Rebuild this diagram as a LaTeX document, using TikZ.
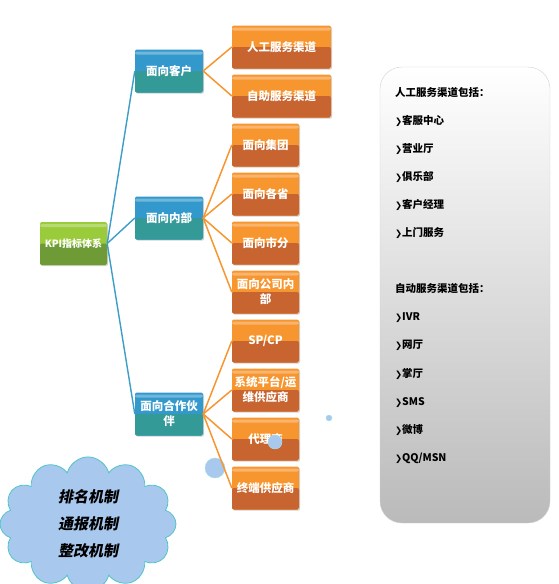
\documentclass[tikz,border=0pt]{standalone}
\usepackage{fontspec}
\setmainfont{Noto Sans CJK SC}
\newfontfamily\symfont{DejaVu Sans}
\newfontfamily\cloudfont[FakeSlant=0.2]{Noto Sans CJK SC}
\usetikzlibrary{shapes.symbols,shadows,positioning}
\newcommand{\vgap}{49pt}
\newcommand{\itm}{{\symfont\fontsize{8.5}{8.5}\selectfont ❯}}
\newcommand{\twol}[2]{#1\\#2}

\definecolor{orgtop}{HTML}{F7952F}
\definecolor{orgbot}{HTML}{C7642F}
\definecolor{blutop}{HTML}{3399CC}
\definecolor{blubot}{HTML}{339A98}
\definecolor{grntop}{HTML}{9ACB3A}
\definecolor{grnbot}{HTML}{6E9B36}
\definecolor{bluline}{HTML}{3C9DC9}
\definecolor{orgline}{HTML}{F7962F}
\definecolor{cloudfill}{HTML}{A8C8EE}
\definecolor{cloudedge}{HTML}{4FC4CA}

\tikzset{
  basebox/.style={rounded corners=2pt, minimum height=43pt, inner sep=1pt,
    align=center, text=white, font=\bfseries\fontsize{11.5}{15}\selectfont,
    fill=#1top,
    drop shadow={shadow xshift=1pt,shadow yshift=-1.2pt,opacity=0.35},
    path picture={
      \fill[#1bot] (path picture bounding box.west)
        rectangle (path picture bounding box.south east);
      \fill[white,opacity=0.3] ([yshift=-2pt]path picture bounding box.north west)
        rectangle ([yshift=-5pt]path picture bounding box.north east);}},
  orgwide/.style={basebox=org, minimum width=99pt},
  orgbox/.style={basebox=org, minimum width=67pt, text width=65pt},
  blubox/.style={basebox=blu, minimum width=68pt, text width=66pt},
  grnbox/.style={basebox=grn, minimum width=67pt,
    font=\bfseries\fontsize{10}{14}\selectfont},
  bluln/.style={draw=bluline, line width=1.4pt},
  orgln/.style={draw=orgline, line width=1.5pt},
  bubble/.style={circle, inner sep=0pt, fill=cloudfill, draw=cloudedge!50},
  panel/.style={rounded corners=22pt, draw=gray!35, top color=white,
    bottom color=black!27, minimum width=170pt, minimum height=456pt}
}

\begin{document}
\begin{tikzpicture}[x=1pt,y=-1pt,node distance=\vgap]
  \useasboundingbox (0,0) rectangle (559,584);

  \node (00) [grnbox] at (73.5,243.5) {KPI指标体系};

  \node (10) [blubox] at (169,71)  {面向客户};
  \node (11) [blubox] at (169,218) {面向内部};
  \node (12) [blubox] at (169,414) {\twol{面向合作伙}{伴}};

  \node (20) [orgwide] at (281.5,47) {人工服务渠道};
  \node (21) [orgwide, below of=20]  {自助服务渠道};

  \node (22) [orgbox] at (265.5,145) {面向集团};
  \node (23) [orgbox, below of=22]   {面向各省};
  \node (24) [orgbox, below of=23]   {面向市分};
  \node (25) [orgbox, below of=24]   {\twol{面向公司内}{部}};
  \node (26) [orgbox, below of=25]   {SP/CP};
  \node (27) [orgbox, below of=26]   {\twol{系统平台/运}{维供应商}};
  \node (28) [orgbox, below of=27]   {代理商};
  \node (29) [orgbox, below of=28]   {终端供应商};

  %% bubbles towards the cloud
  \node (b0) [bubble, minimum size=6pt]  at (329,418) {};
  \node (b1) [bubble, minimum size=14pt] at (275,442) {};
  \node (b2) [bubble, minimum size=20pt] at (215,468) {};

  \node (cl) [cloud, cloud puffs=12, aspect=1.5, fill=cloudfill,
              draw=cloudedge, line width=0.8pt, minimum width=176pt,
              minimum height=118pt, align=center,
              font=\cloudfont\bfseries\fontsize{15}{27}\selectfont]
             at (88,524) {排名机制\\通报机制\\整改机制};

  %% channel list
  \node (pn) [panel] at (465,295) {};
  \node (ls) [below right=20pt and 15pt of pn.north west, inner sep=0pt,
              align=left, font=\bfseries\fontsize{10.5}{28.1}\selectfont]
    {人工服务渠道包括：\\
     \itm 客服中心\\
     \itm 营业厅\\
     \itm 俱乐部\\
     \itm 客户经理\\
     \itm 上门服务\\[28.1pt]
     自动服务渠道包括：\\
     \itm IVR\\
     \itm 网厅\\
     \itm 掌厅\\
     \itm SMS\\
     \itm 微博\\
     \itm QQ/MSN};

  \draw[bluln] (00.east) -- (10.west);
  \draw[bluln] (00.east) -- (11.west);
  \draw[bluln] (00.east) -- (12.west);

  \draw[orgln] (10.east) -- (20.west);
  \draw[orgln] (10.east) -- (21.west);

  \draw[orgln] (11.east) -- (22.west);
  \draw[orgln] (11.east) -- (23.west);
  \draw[orgln] (11.east) -- (24.west);
  \draw[orgln] (11.east) -- (25.west);

  \draw[orgln] (12.east) -- (26.west);
  \draw[orgln] (12.east) -- (27.west);
  \draw[orgln] (12.east) -- (28.west);
  \draw[orgln] (12.east) -- (29.west);

\end{tikzpicture}
\end{document}
